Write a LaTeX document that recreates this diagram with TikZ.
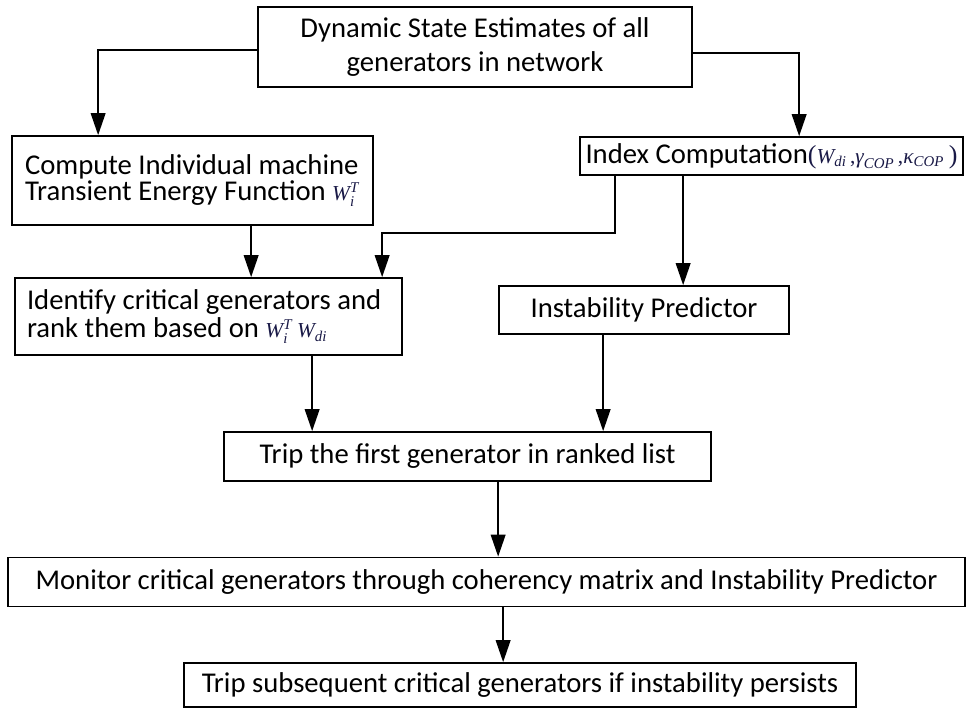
\documentclass[tikz,border=0pt]{standalone}
\usepackage{fontspec}
\usepackage{amsmath}
\setmainfont{Carlito}
\newfontfamily\tnr{Liberation Serif}
\usetikzlibrary{arrows.meta,calc}
\definecolor{mathc}{RGB}{25,25,70}
% italic Times-style symbols for the formulas
\newcommand\tv[1]{\text{\color{mathc}\tnr\itshape #1}}
\newcommand\tc{\text{\color{mathc}\tnr\,,}}
\newcommand\mth[1]{{\fontsize{16}{16}\selectfont$#1$}}
\newcommand\tp[1]{{\color{mathc}\tnr\fontsize{19.5}{19.5}\selectfont #1}}

\begin{document}
\begin{tikzpicture}[x=0.75pt,y=-0.75pt,
  box/.style={draw, line width=1.3pt, inner sep=0pt, align=center,
    font=\fontsize{21.5}{25}\selectfont},
  arr/.style={line width=1.3pt, -{Triangle[length=16.5pt,width=11pt]}}]
\useasboundingbox (0,0) rectangle (969,709);

\node[box, minimum width=325.5pt, minimum height=60pt] (b1) at (475,47)
  {Dynamic State Estimates of all\\generators in network};
\node[box, align=flush left, inner xsep=9.75pt, text width=251.25pt, minimum height=66.75pt,
  font=\fontsize{21.5}{20}\selectfont] (b2) at (192.5,180.5)
  {Compute Individual machine\\Transient Energy Function \mth{\tv{W}_{\tv{i}}^{\tv{T}}}};
\node[box, minimum width=287.25pt, minimum height=28.5pt] (b3) at (771.5,156)
  {Index Computation\tp{(}\mth{\tv{W}_{\tv{di}}\tc\tv{γ}_{\tv{COP}}\tc\tv{κ}_{\tv{COP}}}\,\tp{)}};
\node[box, align=flush left, inner xsep=9pt, text width=272.25pt, minimum height=57.75pt,
  font=\fontsize{21.5}{21}\selectfont] (b4) at (208.5,316.5)
  {Identify critical generators and\\rank them based on \mth{\tv{W}_{\tv{i}}^{\tv{T}}\ \tv{W}_{\tv{di}}}};
\node[box, minimum width=217.5pt, minimum height=36pt] (b5) at (644,310)
  {Instability Predictor};
\node[box, minimum width=365.25pt, minimum height=36.75pt] (b6) at (467.5,456.5)
  {Trip the first generator in ranked list};
\node[box, minimum width=717.75pt, minimum height=36.75pt] (b7) at (486.5,582)
  {Monitor critical generators through coherency matrix and Instability Predictor};
\node[box, minimum width=504pt, minimum height=33pt] (b8) at (520,685)
  {Trip subsequent critical generators if instability persists};

% connectors
\draw[arr] ($(b1.west)+(0,3)$) -| ($(b2.north west)+(87,0)$);
\draw[arr] ($(b1.east)+(0,6)$) -| ($(b3.north west)+(220,0)$);
\draw[arr] ($(b2.south west)+(240,0)$) -- ($(b4.north west)+(237,0)$);
\draw[arr] ($(b3.south west)+(36,0)$) -- ++(0,57) -| ($(b4.north west)+(368,0)$);
\draw[arr] ($(b3.south west)+(104,0)$) -- ($(b5.north west)+(185,0)$);
\draw[arr] ($(b4.south west)+(298,0)$) -- ($(b6.north west)+(89,0)$);
\draw[arr] ($(b5.south west)+(105,0)$) -- ($(b6.north west)+(380,0)$);
\draw[arr] ($(b6.south west)+(275,0)$) -- ($(b7.north west)+(491,0)$);
\draw[arr] ($(b7.south west)+(496,0)$) -- ($(b8.north west)+(320,0)$);
\end{tikzpicture}
\end{document}
